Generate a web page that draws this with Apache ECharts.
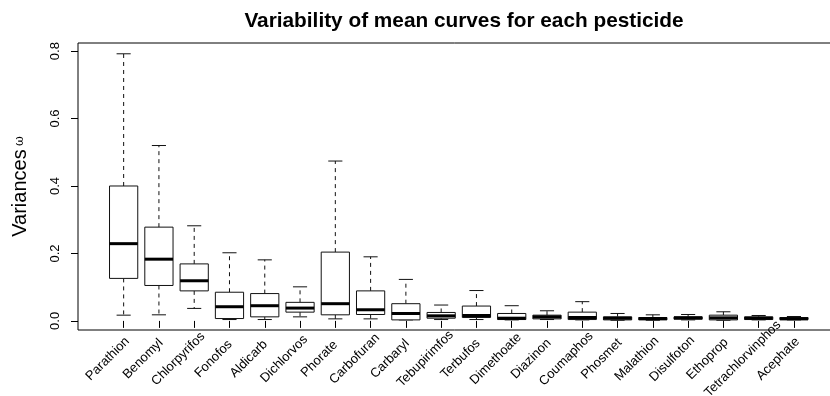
<!DOCTYPE html>
<html>
<head>
<meta charset="utf-8">
<script src="https://cdn.jsdelivr.net/npm/echarts@6/dist/echarts.min.js"></script>
<style>html,body{margin:0;padding:0;background:#fff}#c{width:830px;height:396px}</style>
</head>
<body>
<div id="c"></div>
<script>
const categories = ['Parathion','Benomyl','Chlorpyrifos','Fonofos','Aldicarb','Dichlorvos','Phorate','Carbofuran','Carbaryl','Tebupirimfos','Terbufos','Dimethoate','Diazinon','Coumaphos','Phosmet','Malathion','Disulfoton','Ethoprop','Tetrachlorvinphos','Acephate'];
const whiskerLow  = [0.017,0.018,0.037,0.004,0.004,0.012,0.006,0.006,0.003,0.004,0.004,0.003,0.004,0.003,0.002,0.002,0.003,0.002,0.003,0.003];
const q1          = [0.126,0.105,0.089,0.007,0.012,0.026,0.018,0.019,0.003,0.008,0.010,0.004,0.006,0.004,0.003,0.003,0.005,0.003,0.004,0.004];
const median      = [0.229,0.183,0.119,0.042,0.045,0.038,0.051,0.033,0.022,0.015,0.016,0.008,0.012,0.010,0.008,0.007,0.009,0.009,0.008,0.006];
const q3          = [0.400,0.278,0.169,0.085,0.081,0.055,0.204,0.089,0.051,0.025,0.044,0.022,0.017,0.026,0.012,0.010,0.012,0.017,0.012,0.010];
const whiskerHigh = [0.792,0.520,0.282,0.202,0.181,0.101,0.474,0.190,0.123,0.047,0.090,0.045,0.030,0.057,0.022,0.018,0.019,0.027,0.016,0.013];
const yTicks = [0, 0.2, 0.4, 0.6, 0.8];

const boxData = categories.map((c, i) => [i, whiskerLow[i], q1[i], median[i], q3[i], whiskerHigh[i]]);

const chart = echarts.init(document.getElementById('c'));
const FONT = 'Liberation Sans, Arial, Helvetica, sans-serif';
const INK = '#111';

function renderBox(params, api) {
  const x = api.value(0);
  const pLo = api.coord([x, api.value(1)]);
  const pQ1 = api.coord([x, api.value(2)]);
  const pMd = api.coord([x, api.value(3)]);
  const pQ3 = api.coord([x, api.value(4)]);
  const pHi = api.coord([x, api.value(5)]);
  const band = api.size([1, 0])[0];
  const bw = band * 0.8, cw = bw * 0.5;
  const cx = pMd[0];
  const dash = { stroke: INK, lineWidth: 1, lineDash: [4, 4] };
  const solid = { stroke: INK, lineWidth: 1 };
  return {
    type: 'group',
    children: [
      { type: 'line', shape: { x1: cx, y1: pQ3[1], x2: cx, y2: pHi[1] }, style: dash },
      { type: 'line', shape: { x1: cx, y1: pQ1[1], x2: cx, y2: pLo[1] }, style: dash },
      { type: 'line', shape: { x1: cx - cw / 2, y1: pHi[1], x2: cx + cw / 2, y2: pHi[1] }, style: solid },
      { type: 'line', shape: { x1: cx - cw / 2, y1: pLo[1], x2: cx + cw / 2, y2: pLo[1] }, style: solid },
      { type: 'rect', shape: { x: cx - bw / 2, y: pQ3[1], width: bw, height: pQ1[1] - pQ3[1] }, style: { fill: '#fff', stroke: INK, lineWidth: 1 } },
      { type: 'line', shape: { x1: cx - bw / 2, y1: pMd[1], x2: cx + bw / 2, y2: pMd[1] }, style: { stroke: '#000', lineWidth: 3 } }
    ]
  };
}

chart.setOption({
  animation: false,
  backgroundColor: '#fff',
  title: {
    text: 'Variability of mean curves for each pesticide',
    left: 459, top: 6, textAlign: 'center',
    textStyle: { fontFamily: FONT, fontSize: 20.8, fontWeight: 'bold', color: '#000' }
  },
  grid: [
    { left: 106, top: 43, width: 705.6, height: 287, containLabel: false, outerBoundsMode: 'none' },
    { left: 78, top: 43, width: 762, height: 287, show: true, borderColor: '#000', borderWidth: 1, backgroundColor: 'transparent', z: 10, containLabel: false, outerBoundsMode: 'none' }
  ],
  xAxis: [
    {
      type: 'category', gridIndex: 0, data: categories, boundaryGap: true,
      axisLine: { show: false },
      axisTick: { show: true, alignWithLabel: true, length: 7, lineStyle: { color: '#000' } },
      axisLabel: { interval: 0, rotate: 45, margin: 13, align: 'center', verticalAlign: 'middle', padding: [0, 45, 0, 0], fontFamily: FONT, fontSize: 13, color: '#000' },
      splitLine: { show: false }
    },
    { type: 'value', gridIndex: 1, show: false, min: 0, max: 1 }
  ],
  yAxis: [
    {
      type: 'value', gridIndex: 0, min: -0.027, max: 0.824, offset: 28,
      name: '{a|Variances} {b|ω}', nameLocation: 'middle', nameGap: 48, nameRotate: 90,
      nameTextStyle: { rich: { a: { fontFamily: FONT, fontSize: 20, color: '#000' }, b: { fontFamily: 'DejaVu Serif, serif', fontSize: 12, color: '#000' } } },
      axisLine: { show: false },
      axisTick: { show: true, length: 7, customValues: yTicks, lineStyle: { color: '#000' } },
      axisLabel: { rotate: 90, margin: 16, customValues: yTicks, fontFamily: FONT, fontSize: 13, color: '#000', formatter: v => v.toFixed(1) },
      splitLine: { show: false }
    },
    { type: 'value', gridIndex: 1, show: false, min: 0, max: 1 }
  ],
  series: [
    { type: 'custom', xAxisIndex: 0, yAxisIndex: 0, data: boxData, renderItem: renderBox, encode: { x: 0, y: [1, 2, 3, 4, 5] } }
  ]
});
</script>
</body>
</html>
